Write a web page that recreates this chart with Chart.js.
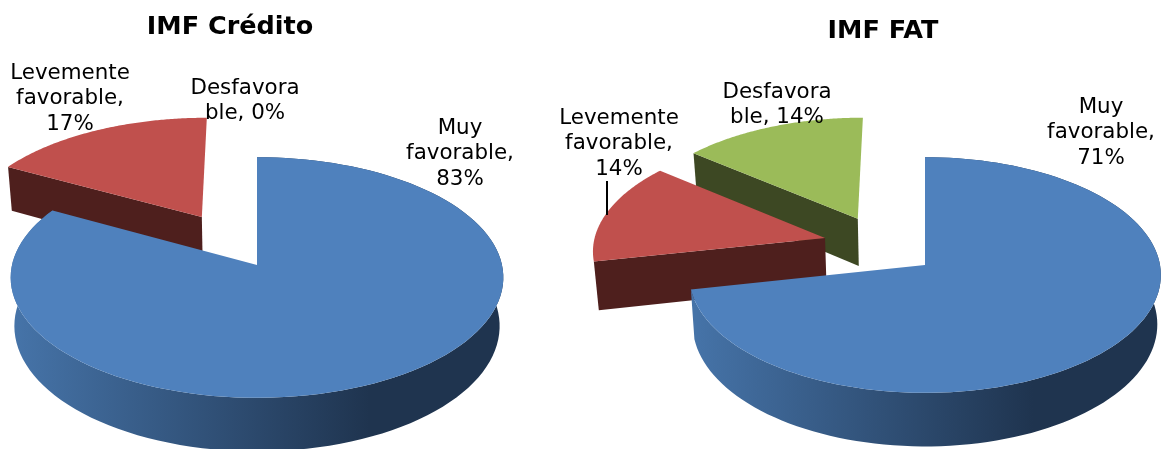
<!DOCTYPE html>
<html>
<head>
<meta charset="utf-8">
<title>IMF Crédito / IMF FAT</title>
<script src="https://cdn.jsdelivr.net/npm/chart.js@4"></script>
<style>
    html, body { margin: 0; padding: 0; background: #ffffff; overflow: hidden; }
    canvas { position: absolute; top: 0; }
</style>
</head>
<body>
<canvas id="chartCredito" width="545" height="449" style="left:0"></canvas>
<canvas id="chartFat" width="616" height="449" style="left:545px"></canvas>
<script>
// Data
const categories = ['Muy favorable', 'Levemente favorable', 'Desfavorable'];
const valuesCredito = [83, 17, 0];
const valuesFat = [71, 14, 14];
const labelLinesCredito = [['Muy', 'favorable,', '83%'], ['Levemente', 'favorable,', '17%'], ['Desfavora', 'ble, 0%']];
const labelLinesFat = [['Muy', 'favorable,', '71%'], ['Levemente', 'favorable,', '14%'], ['Desfavora', 'ble, 14%']];

const faceColors = ['#4f81bd', '#c0504d', '#9bbb59'];
const wallColors = ['#1f344f', '#4e1f1d', '#3d4823'];
const wallLight = '#4674a9';

// Draws the arcs of the pie as a tilted 3D pie, seen in perspective
const pie3d = {
    id: 'pie3d',
    beforeDatasetDraw(chart, args, opts) {
        const ctx = chart.ctx;
        const arcs = chart.getDatasetMeta(0).data;

        const project = (u, v) => {
            const s = 1 / (1 - opts.tilt * v);
            return { x: opts.cx + u * opts.rx * s, y: opts.cy + v * opts.ry * s, s: s };
        };
        const drop = p => ({
            x: opts.cx + (p.x - opts.cx) * 0.985,
            y: p.y + opts.depth * p.s
        });
        const fillPath = (points, color) => {
            ctx.beginPath();
            points.forEach((p, i) => i ? ctx.lineTo(p.x, p.y) : ctx.moveTo(p.x, p.y));
            ctx.closePath();
            ctx.fillStyle = color;
            ctx.fill();
        };

        ctx.save();
        ctx.translate(-opts.left, 0);

        // back slices first
        for (let i = arcs.length - 1; i >= 0; i--) {
            const arc = arcs[i];
            if (arc.endAngle - arc.startAngle <= 0) continue;

            const [du, dv] = opts.explode[i];
            const apex = project(du, dv);
            const rim = [];
            for (let n = 0; n <= 120; n++) {
                const a = arc.startAngle + (arc.endAngle - arc.startAngle) * n / 120;
                rim.push(project(du + Math.cos(a), dv + Math.sin(a)));
            }

            // only the cut edge facing us shows a wall on the small slices
            const first = rim[0];
            fillPath([apex, first, drop(first), drop(apex)], wallColors[i]);
            if (i === 0) {
                const rimColor = ctx.createLinearGradient(opts.cx - opts.rx, 0, opts.cx + opts.rx, 0);
                rimColor.addColorStop(0, wallLight);
                rimColor.addColorStop(0.73, wallColors[0]);
                rimColor.addColorStop(1, wallColors[0]);
                fillPath(rim.concat(rim.map(drop).reverse()), rimColor);
            }

            // top face
            fillPath([apex].concat(rim), faceColors[i]);
        }
        ctx.restore();
        return false;
    },
    afterDraw(chart, args, opts) {
        const ctx = chart.ctx;
        ctx.save();
        ctx.translate(-opts.left, 0);
        ctx.textAlign = 'center';
        ctx.textBaseline = 'middle';
        ctx.fillStyle = '#000000';

        ctx.font = 'bold 25.5px "DejaVu Sans"';
        ctx.fillText(opts.title, opts.titleAt[0], opts.titleAt[1]);

        ctx.font = '21.4px "DejaVu Sans"';
        opts.labels.forEach((lines, i) => {
            lines.forEach((line, n) => {
                ctx.fillText(line, opts.labelAt[i][0], opts.labelAt[i][1] + n * opts.lineGap);
            });
        });

        if (opts.leader) {
            ctx.strokeStyle = '#000000';
            ctx.lineWidth = 2;
            ctx.beginPath();
            ctx.moveTo(opts.leader[0], opts.leader[1]);
            ctx.lineTo(opts.leader[2], opts.leader[3]);
            ctx.stroke();
        }
        ctx.restore();
    }
};

function makePie(id, values, settings) {
    new Chart(document.getElementById(id), {
        type: 'pie',
        data: {
            labels: categories,
            datasets: [{ data: values, backgroundColor: faceColors, borderWidth: 0 }]
        },
        options: {
            responsive: false,
            animation: false,
            plugins: {
                legend: { display: false },
                tooltip: { enabled: false },
                pie3d: settings
            }
        },
        plugins: [pie3d]
    });
}

makePie('chartCredito', valuesCredito, {
    left: 0, cx: 257, cy: 265, rx: 245, ry: 119, tilt: 0.104, depth: 48,
    explode: [[0, 0], [-0.235, -0.42], [0, 0]],
    title: 'IMF Crédito', titleAt: [230, 27],
    labels: labelLinesCredito,
    labelAt: [[460, 128], [70, 73], [245, 88]],
    lineGap: 25.5
});

makePie('chartFat', valuesFat, {
    left: 545, cx: 925, cy: 265, rx: 235, ry: 117, tilt: 0.085, depth: 49,
    explode: [[0, 0], [-0.434, -0.235], [-0.296, -0.41]],
    title: 'IMF FAT', titleAt: [883, 31],
    labels: labelLinesFat,
    labelAt: [[1101, 107], [619, 118], [777, 92]],
    lineGap: 25.5,
    leader: [607, 181, 607, 215]
});
</script>
</body>
</html>
